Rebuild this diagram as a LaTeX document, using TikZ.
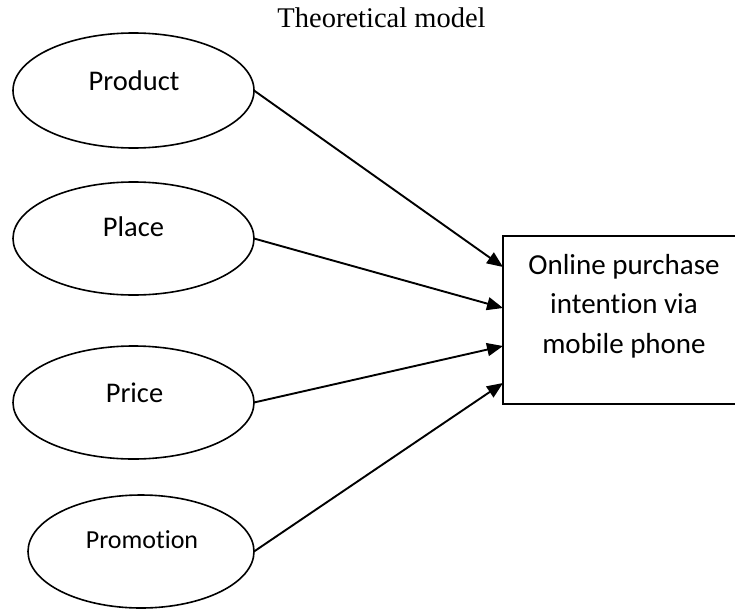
\documentclass[tikz,border=0pt]{standalone}
\usepackage{fontspec}
\setmainfont{Liberation Serif}
\newfontfamily\carlfont[Ligatures=NoCommon]{Carlito}
\usetikzlibrary{shapes.geometric,arrows.meta}
\begin{document}
\begin{tikzpicture}[x=1pt,y=-1pt,
  ell/.style={draw, ellipse, line width=1.6pt, inner sep=0pt, outer sep=0pt},
  lbl/.style={anchor=base, inner sep=0pt, font=\carlfont\fontsize{28.5}{34}\selectfont},
  conn/.style={line width=1.9pt, -{Triangle[length=16pt,width=13pt]}}]
\useasboundingbox (0,0) rectangle (735,610);
\clip (0,0) rectangle (735,610);

\node[anchor=base, inner sep=0pt, font=\fontsize{28.5}{34}\selectfont] (title) at (381.5,28) {Theoretical model};

\node[ell, minimum width=241pt, minimum height=115pt] (product) at (133.5,90.5) {};
\node[lbl] (productt) at (134,90) {Product};

\node[ell, minimum width=241pt, minimum height=113pt] (place) at (133.5,238.5) {};
\node[lbl] (placet) at (133.5,236) {Place};

\node[ell, minimum width=241pt, minimum height=113pt] (price) at (133.5,402.5) {};
\node[lbl] (pricet) at (134.5,402) {Price};

\node[ell, minimum width=226pt, minimum height=113pt] (promotion) at (141,551.5) {};
\node[lbl, font=\carlfont\fontsize{26}{32}\selectfont] (promotiont) at (142,548) {Promotion};

\node[draw, line width=1.6pt, anchor=north west, minimum width=240pt, minimum height=168pt, inner sep=0pt, outer sep=0pt] (out) at (503,236) {};
\node[align=center, anchor=north, inner sep=0pt, font=\carlfont\fontsize{29}{39.5}\selectfont] (outt) at (624,254) {Online purchase\\intention via\\mobile phone};

\draw[conn] (product.east) -- ([yshift=-31pt]out.north west);
\draw[conn] (place.east) -- ([yshift=-72pt]out.north west);
\draw[conn] (price.east) -- ([yshift=-110pt]out.north west);
\draw[conn] (promotion.east) -- ([yshift=-147pt]out.north west);
\end{tikzpicture}
\end{document}
